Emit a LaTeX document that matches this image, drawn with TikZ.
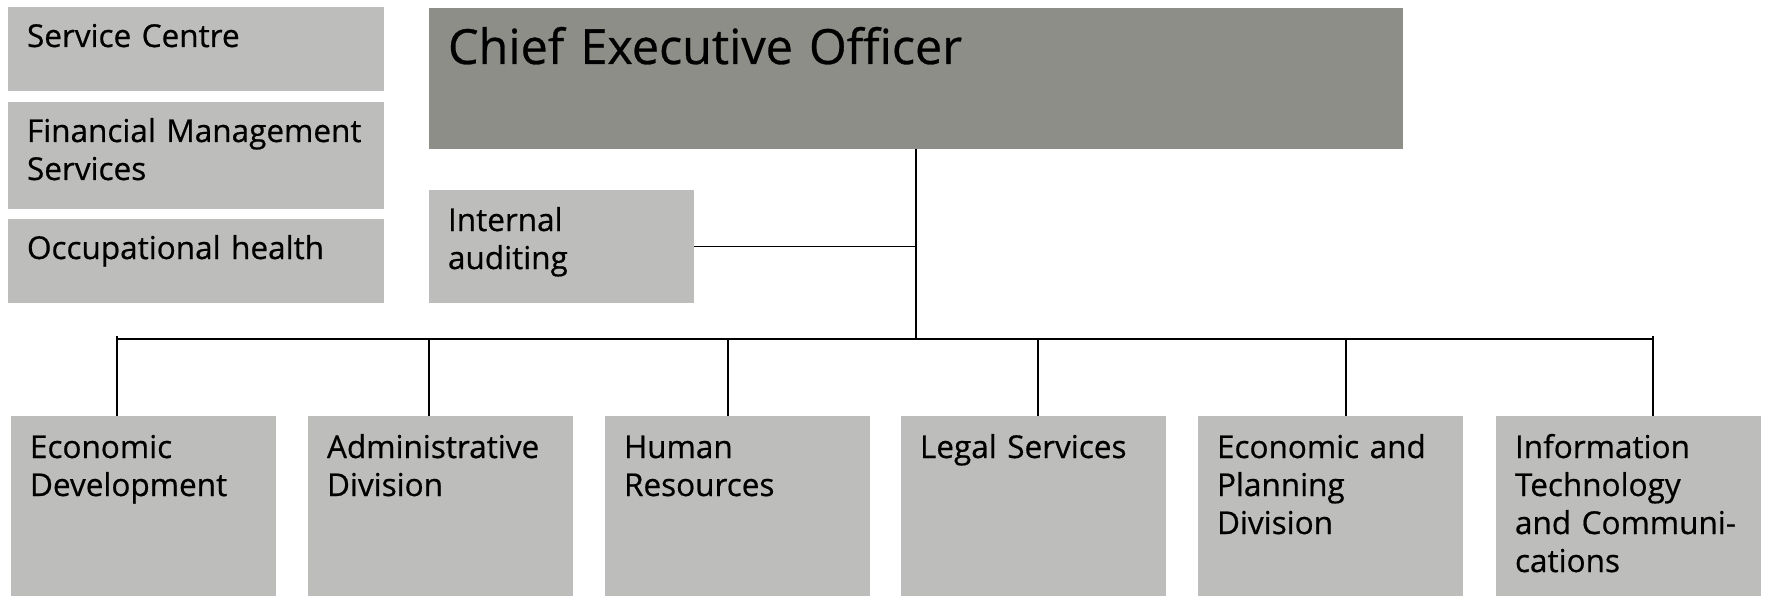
\documentclass[tikz,border=0pt]{standalone}
\usepackage{fontspec}
\setmainfont{Open Sans}[FakeBold=0.6]
\usepackage{tikz}
\usetikzlibrary{positioning}
\definecolor{ceogray}{RGB}{142,142,137}
\definecolor{unitgray}{RGB}{189,189,187}
\tikzstyle{unit} = [rectangle, fill=unitgray, anchor=north west, align=left,
                 outer sep=0pt, inner xsep=19pt, inner ysep=0pt,
                 font=\fontsize{31.5}{38}\selectfont]
\tikzstyle{branch} = [line width=1.6pt, draw]
\tikzset{
	side/.style={unit, text width=338pt, text height=40pt},
	division/.style={unit, text width=227pt, text height=42pt, text depth=138pt},
}
\begin{document}
\begin{tikzpicture}[x=1pt,y=-1pt]
\useasboundingbox (0,0) rectangle (1769,596);

%top row
\node [unit, fill=ceogray, text width=936pt, text height=56pt, text depth=85pt,
       font=\fontsize{48.5}{60}\selectfont] at (429,8) (ceo) {Chief Executive Officer};
\node [side, text depth=44pt] at (8,7) (sc) {Service Centre};
\node [side, text depth=67pt] at (8,102) (fms) {Financial Management\\Services};
\node [side, text depth=44pt] at (8,219) (oh) {Occupational health};
\node [unit, text width=227pt, text height=41pt, text depth=72pt] at (429,190) (ia) {Internal\\auditing};

%divisions
\node [division] at (11,416) (ed) {Economic\\Development};
\node [division] at (308,416) (ad) {Administrative\\Division};
\node [division] at (605,416) (hr) {Human\\Resources};
\node [division] at (901,416) (ls) {Legal Services};
\node [division] at (1198,416) (ep) {Economic and\\Planning\\Division};
\node [division] at (1496,416) (it) {Information\\Technology\\and Communi-\\cations};

\coordinate (hub) at (ceo.south |- 0,339);

\path [branch] (ceo.south) -- (hub);
\path [branch] (ia.east) -- (ia.east -| ceo.south);
\path [branch] ([xshift=-26.5pt]ed.north |- hub) -- ([xshift=24.5pt]it.north |- hub);
\foreach \unit/\dx in {ad/-11.5, hr/-9.5, ls/4.5, ep/15.5}
	\path [branch] ([xshift=\dx pt]\unit.north) -- ([xshift=\dx pt]\unit.north |- hub);
\path [branch] ([xshift=-26.5pt]ed.north) -- ([xshift=-26.5pt,yshift=3pt]ed.north |- hub);
\path [branch] ([xshift=24.5pt]it.north) -- ([xshift=24.5pt,yshift=3pt]it.north |- hub);

\end{tikzpicture}
\end{document}
